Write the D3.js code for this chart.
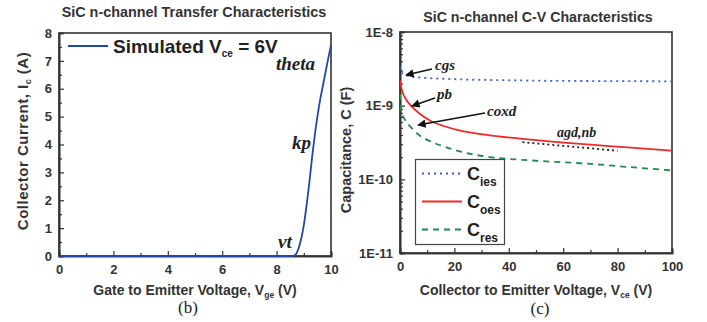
<!DOCTYPE html>
<html><head><meta charset="utf-8">
<script src="https://cdn.jsdelivr.net/npm/d3@7"></script>
<style>body{margin:0;background:#fff}svg{display:block}</style>
</head><body>
<svg id="c" width="707" height="322"></svg>
<script>
// ---- data ----
const vge = [0, 8.6, 8.7, 8.8, 8.9, 9.0, 9.1, 9.2, 9.3, 9.4, 9.5, 9.6, 9.7, 9.8, 9.9, 10.0];
const ic  = [0, 0, 0.05, 0.25, 0.6, 1.1, 1.8, 2.6, 3.5, 4.3, 5.0, 5.6, 6.1, 6.6, 7.1, 7.56];

const vce  = [0, 0.5, 1, 2, 4, 7, 11, 16, 21, 33, 45, 52, 70, 85, 100];
const cies = [3.4e-9, 2.9e-9, 2.7e-9, 2.6e-9, 2.5e-9, 2.42e-9, 2.36e-9, 2.32e-9, 2.28e-9, 2.23e-9, 2.2e-9, 2.18e-9, 2.16e-9, 2.15e-9, 2.14e-9];
const coes = [2.2e-9, 1.75e-9, 1.5e-9, 1.25e-9, 1.0e-9, 7.9e-10, 6.3e-10, 5.3e-10, 4.7e-10, 3.95e-10, 3.55e-10, 3.35e-10, 2.95e-10, 2.7e-10, 2.45e-10];
const cres = [1.45e-9, 8.2e-10, 7.3e-10, 6.3e-10, 5.1e-10, 4.0e-10, 3.3e-10, 2.8e-10, 2.45e-10, 2.0e-10, 1.84e-10, 1.77e-10, 1.62e-10, 1.46e-10, 1.32e-10];
const agdV = [45, 80];
const agdC = [3.4e-10, 2.6e-10];

const xTicksL = [0, 2, 4, 6, 8, 10];
const yTicksL = [0, 1, 2, 3, 4, 5, 6, 7, 8];
const xTicksR = [0, 20, 40, 60, 80, 100];
const yTicksR = [1e-11, 1e-10, 1e-9, 1e-8];
const yTickLabelsR = ["1E-11", "1E-10", "1E-9", "1E-8"];

const svg = d3.select("#c");
const FONT = "Liberation Sans, Arial, sans-serif";
const SERIF = "Liberation Serif, Times New Roman, serif";
const AX = "#333";

function frame(g, x0, x1, y0, y1) {
  g.append("rect").attr("x", x0).attr("y", y1).attr("width", x1 - x0).attr("height", y0 - y1)
    .attr("fill", "none").attr("stroke", AX).attr("stroke-width", 1.6);
}
function note(g, t, x, y, size) {
  g.append("text").attr("x", x).attr("y", y).text(t).attr("font-family", SERIF)
    .attr("font-style", "italic").attr("font-weight", "bold").attr("font-size", size).attr("fill", "#222");
}

// ---------- Left plot ----------
const xL = d3.scaleLinear().domain([0, 10]).range([59, 331]);
const yL = d3.scaleLinear().domain([0, 8]).range([256, 33]);
const gL = svg.append("g");

gL.append("g").attr("transform", `translate(0,${yL(0)})`)
  .call(d3.axisBottom(xL).tickValues(xTicksL).tickSize(-5).tickPadding(9).tickFormat(d3.format("d")));
gL.append("g").attr("transform", `translate(0,${yL(0)})`)
  .call(d3.axisBottom(xL).tickValues([1,3,5,7,9]).tickSize(-3).tickFormat(""));
gL.append("g").attr("transform", `translate(${xL(0)},0)`)
  .call(d3.axisLeft(yL).tickValues(yTicksL).tickSize(-5).tickPadding(7).tickFormat(d3.format("d")));
gL.append("g").attr("transform", `translate(${xL(0)},0)`)
  .call(d3.axisLeft(yL).tickValues(d3.range(0.5, 8, 1)).tickSize(-3).tickFormat(""));

frame(gL, xL(0), xL(10), yL(0), yL(8));

const lineL = d3.line().x((d, i) => xL(vge[i])).y((d, i) => yL(ic[i])).curve(d3.curveMonotoneX);
gL.append("path").datum(ic).attr("d", lineL).attr("fill", "none").attr("stroke", "#2347a8").attr("stroke-width", 1.8);

// legend
gL.append("line").attr("x1", 68).attr("x2", 108).attr("y1", 46).attr("y2", 46).attr("stroke", "#2347a8").attr("stroke-width", 1.8);
const lt = gL.append("text").attr("x", 113).attr("y", 53).attr("font-family", FONT).attr("font-weight", "bold").attr("font-size", 19).attr("fill", "#222");
lt.append("tspan").text("Simulated V");
lt.append("tspan").text("ce").attr("font-size", 10).attr("dy", 4);
lt.append("tspan").text(" = 6V").attr("dy", -4);

note(gL, "theta", 276, 70, 19);
note(gL, "kp", 292, 149, 19);
note(gL, "vt", 278, 248, 19);

// titles
gL.append("text").attr("x", 194).attr("y", 16.5).attr("text-anchor", "middle").text("SiC n-channel Transfer Characteristics")
  .attr("font-family", FONT).attr("font-weight", "bold").attr("font-size", 14.4).attr("fill", "#333");
const xtL = gL.append("text").attr("x", 195).attr("y", 294.5).attr("text-anchor", "middle")
  .attr("font-family", FONT).attr("font-weight", "bold").attr("font-size", 14).attr("fill", "#333");
xtL.append("tspan").text("Gate to Emitter Voltage, V");
xtL.append("tspan").text("ge").attr("font-size", 8.5).attr("dy", 3);
xtL.append("tspan").text(" (V)").attr("dy", -3);
const ytL = gL.append("text").attr("transform", "translate(28,141) rotate(-90)").attr("text-anchor", "middle")
  .attr("font-family", FONT).attr("font-weight", "bold").attr("font-size", 15).attr("letter-spacing", 0.5).attr("fill", "#333");
ytL.append("tspan").text("Collector Current, I");
ytL.append("tspan").text("c").attr("font-size", 9).attr("dy", 3);
ytL.append("tspan").text(" (A)").attr("dy", -3);
gL.append("text").attr("x", 188).attr("y", 312.5).attr("text-anchor", "middle").text("(b)")
  .attr("font-family", SERIF).attr("font-size", 17).attr("fill", "#222");

// ---------- Right plot ----------
const xR = d3.scaleLinear().domain([0, 100]).range([400, 672]);
const yR = d3.scaleLog().domain([1e-11, 1e-8]).range([253, 32]);
const gR = svg.append("g");

gR.append("g").attr("transform", `translate(0,${yR(1e-11)})`)
  .call(d3.axisBottom(xR).tickValues(xTicksR).tickSize(-5).tickPadding(9).tickFormat(d3.format("d")));
gR.append("g").attr("transform", `translate(0,${yR(1e-11)})`)
  .call(d3.axisBottom(xR).tickValues([10,30,50,70,90]).tickSize(-3).tickFormat(""));
gR.append("g").attr("transform", `translate(${xR(0)},0)`)
  .call(d3.axisLeft(yR).tickValues(yTicksR).tickSize(-5).tickPadding(7).tickFormat((d, i) => yTickLabelsR[i]));
const minorR = [];
[1e-11, 1e-10, 1e-9].forEach(b => { for (let k = 2; k <= 9; k++) minorR.push(b * k); });
gR.append("g").attr("transform", `translate(${xR(0)},0)`)
  .call(d3.axisLeft(yR).tickValues(minorR).tickSize(-3).tickFormat(""));

frame(gR, xR(0), xR(100), yR(1e-11), yR(1e-8));

gR.append("clipPath").attr("id", "clipR").append("rect")
  .attr("x", xR(0)).attr("y", yR(1e-8)).attr("width", xR(100) - xR(0)).attr("height", yR(1e-11) - yR(1e-8));
const curves = gR.append("g").attr("clip-path", "url(#clipR)");
const mkLine = arr => d3.line().x((d, i) => xR(vce[i])).y((d, i) => yR(arr[i])).curve(d3.curveMonotoneX);
curves.append("path").datum(cres).attr("d", mkLine(cres)).attr("fill", "none").attr("stroke", "#1f8a4c").attr("stroke-width", 1.8).attr("stroke-dasharray", "6,5");
curves.append("path").datum(coes).attr("d", mkLine(coes)).attr("fill", "none").attr("stroke", "#ee2a2a").attr("stroke-width", 1.8);
curves.append("path").datum(cies).attr("d", mkLine(cies)).attr("fill", "none").attr("stroke", "#3a5fc8").attr("stroke-width", 1.8).attr("stroke-dasharray", "2,4");
curves.append("path").datum(agdC).attr("d", d3.line().x((d, i) => xR(agdV[i])).y((d, i) => yR(agdC[i]) + 2)(agdC))
  .attr("fill", "none").attr("stroke", "#222").attr("stroke-width", 1.8).attr("stroke-dasharray", "2,3");

// arrows
const defs = svg.append("defs");
defs.append("marker").attr("id", "ah").attr("viewBox", "0 0 10 10").attr("refX", 9).attr("refY", 5)
  .attr("markerWidth", 7).attr("markerHeight", 6).attr("orient", "auto")
  .append("path").attr("d", "M0,0 L10,5 L0,10 z").attr("fill", "#111");
[[432, 69, 406, 75], [435, 98, 412, 106], [485, 113, 418, 125]].forEach(([x1, y1, x2, y2]) => {
  gR.append("line").attr("x1", x1).attr("y1", y1).attr("x2", x2).attr("y2", y2)
    .attr("stroke", "#111").attr("stroke-width", 1.4).attr("marker-end", "url(#ah)");
});
note(gR, "cgs", 435, 70, 15);
note(gR, "pb", 437, 99, 15);
note(gR, "coxd", 487, 116, 15);
note(gR, "agd,nb", 557, 137, 14);

// legend
gR.append("rect").attr("x", 415.5).attr("y", 159.5).attr("width", 89).attr("height", 85)
  .attr("fill", "#fff").attr("stroke", "#444").attr("stroke-width", 1.2);
const leg = [["ies", "#3a5fc8", "2,4", 173.5], ["oes", "#ee2a2a", null, 201.5], ["res", "#1f8a4c", "6,5", 229.5]];
leg.forEach(([s, c, da, y]) => {
  const l = gR.append("line").attr("x1", 422).attr("x2", 462).attr("y1", y).attr("y2", y).attr("stroke", c).attr("stroke-width", 1.8);
  if (da) l.attr("stroke-dasharray", da);
  const t = gR.append("text").attr("x", 467).attr("y", y + 6.5).attr("font-family", FONT).attr("font-weight", "bold")
    .attr("font-size", 18).attr("fill", "#222");
  t.append("tspan").text("C");
  t.append("tspan").text(s).attr("font-size", 12).attr("dy", 6);
});

// titles
gR.append("text").attr("x", 538).attr("y", 21.5).attr("text-anchor", "middle").text("SiC n-channel C-V Characteristics")
  .attr("font-family", FONT).attr("font-weight", "bold").attr("font-size", 14.2).attr("fill", "#333");
const xtR = gR.append("text").attr("x", 536).attr("y", 294.5).attr("text-anchor", "middle")
  .attr("font-family", FONT).attr("font-weight", "bold").attr("font-size", 14).attr("fill", "#333");
xtR.append("tspan").text("Collector to Emitter Voltage, V");
xtR.append("tspan").text("ce").attr("font-size", 8.5).attr("dy", 3);
xtR.append("tspan").text(" (V)").attr("dy", -3);
gR.append("text").attr("transform", "translate(351,150) rotate(-90)").attr("text-anchor", "middle")
  .text("Capacitance, C (F)").attr("font-family", FONT).attr("font-weight", "bold").attr("font-size", 14.5).attr("fill", "#333");
gR.append("text").attr("x", 540).attr("y", 313.5).attr("text-anchor", "middle").text("(c)")
  .attr("font-family", SERIF).attr("font-size", 17).attr("fill", "#222");

// axis styling
svg.selectAll(".domain").attr("stroke", AX).attr("stroke-width", 1.6);
svg.selectAll(".tick line").attr("stroke", AX).attr("stroke-width", 1.2);
svg.selectAll(".tick text").attr("font-family", FONT).attr("font-weight", "bold").attr("font-size", 13).attr("fill", "#333");
</script>
</body></html>
